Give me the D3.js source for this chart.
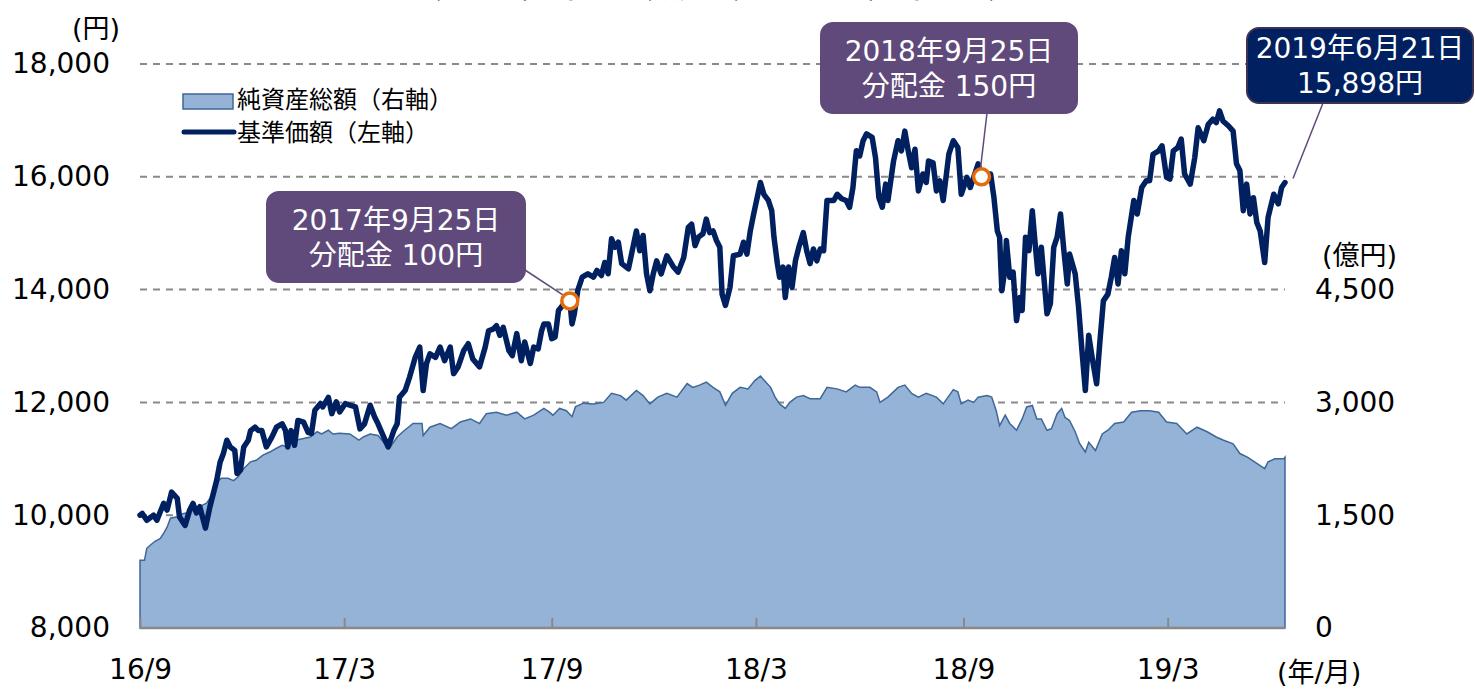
<!DOCTYPE html>
<html>
<head>
<meta charset="utf-8">
<script src="https://cdn.jsdelivr.net/npm/d3@7"></script>
<style>
  body { margin: 0; background: #fff; }
  text { font-family: "DejaVu Sans", "Noto Sans CJK JP", sans-serif; }
</style>
</head>
<body>
<div id="chart"></div>
<script>
// fund launch and last date
const launchDate = new Date(2016, 8, 9);
const lastDate = new Date(2019, 5, 21);

// 基準価額 (yen), days counted from launch
const navDays = [0,2,6,12,15,18,21,24,28,33,35,40,44,47,50,53,58,62,68,71,74,77,80,84,86,89,92,96,98,102,105,108,112,117,121,126,129,131,134,137,140,145,149,152,155,160,162,167,170,174,177,182,186,191,195,199,204,208,211,216,220,225,228,230,235,239,244,248,251,254,257,262,266,270,275,278,282,287,291,295,301,306,309,313,316,319,322,327,330,334,338,341,346,349,353,356,358,362,365,368,371,377,381,383,385,388,392,397,402,405,409,412,415,418,421,424,427,433,437,440,443,446,449,452,455,458,462,467,473,477,482,486,489,492,495,499,502,505,508,511,514,516,519,523,526,532,535,538,541,544,550,553,557,560,562,565,567,570,572,575,578,581,584,588,591,594,597,600,603,606,609,615,618,622,626,629,632,635,638,641,644,649,652,655,658,661,663,668,672,675,678,681,684,687,690,694,697,699,703,706,709,712,717,721,725,728,733,736,739,743,746,754,757,760,762,764,767,768,771,774,777,780,782,785,788,791,793,796,799,804,807,810,813,816,819,822,824,829,832,835,838,841,844,848,851,854,858,861,864,867,870,873,876,881,884,888,892,895,898,903,906,910,913,916,920,923,926,931,935,938,943,947,951,954,957,960,965,969,972,975,978,981,984,987,990,993,997,1000,1005,1009,1012,1015];
const navYen = [10000,10030,9910,10000,9910,10060,10210,10090,10410,10300,9970,9820,10090,10210,10040,10150,9770,10150,10620,10940,11100,11330,11210,11150,10740,10800,11210,11330,11500,11560,11500,11500,11210,11390,11560,11620,11500,11210,11500,11240,11680,11650,11470,11450,11860,11980,11920,12090,11800,12010,11830,11980,11950,11920,11530,11620,11950,11740,11620,11390,11210,11500,11620,12090,12210,12450,12800,12980,12210,12690,12860,12800,12980,12740,12980,12510,12630,12920,13040,12770,12630,12980,13270,13300,13360,13190,13330,12920,12830,13220,12740,13070,12690,12980,12950,13270,13390,13390,13130,13160,13630,13780,13800,13390,13570,13980,14220,14280,14220,14340,14250,14480,14280,14900,14750,14840,14460,14370,14750,15040,14690,14960,14280,13980,14280,14510,14280,14600,14400,14310,14570,15100,15160,14780,14930,14990,15250,15010,15040,14870,14750,13920,13720,14040,14600,14630,14840,14630,15040,15340,15900,15690,15580,15400,14930,14460,14220,14400,13860,14400,14040,14510,14750,15010,14690,14460,14720,14510,14720,14690,15580,15580,15690,15610,15580,15460,15810,16460,16370,16640,16760,16700,16340,15630,15460,15870,15580,16280,16640,16460,16810,16460,16160,16490,15750,16050,15900,16280,16250,15750,15930,15580,16400,16640,16520,15690,15990,15810,15990,16230,16000,16050,15630,15040,14930,13980,14400,14870,14220,14310,13450,13860,13630,14930,14690,15400,14930,14280,14750,13570,13750,14750,14930,15340,14690,14100,14630,14280,13690,12920,12210,13190,12800,12330,13100,13800,13920,14220,14570,14100,14690,14280,14930,15580,15340,15810,15930,15930,16400,16460,16550,15990,15960,16460,16520,16670,16050,15870,16340,16870,16640,16930,17020,16960,17170,16990,16900,16810,16230,16110,15400,15870,15340,15630,15190,15040,14480,15280,15690,15520,15810,15898];

// 純資産総額 (億円), days counted from launch
const aumDays = [0,4,6,9,13,18,21,24,27,33,38,44,50,55,59,65,68,72,78,83,87,92,98,103,109,115,121,126,130,134,139,145,151,157,161,167,171,177,186,194,198,204,211,217,222,228,233,242,250,251,257,266,276,284,293,301,307,316,325,334,341,349,358,363,366,372,378,383,386,393,402,411,418,426,431,440,446,452,459,467,476,485,490,496,502,508,514,519,525,532,539,545,550,559,563,567,572,576,582,588,594,603,609,618,626,634,638,647,653,656,663,672,678,684,690,697,706,712,721,725,728,734,739,743,751,755,759,762,767,771,777,782,786,791,795,799,804,808,813,817,820,824,829,833,838,841,847,853,858,864,872,879,887,895,903,910,919,928,937,946,954,960,969,975,982,988,997,1000,1006,1014,1015];
const aumOku = [900,900,1060,1100,1150,1190,1260,1340,1460,1480,1520,1540,1590,1630,1660,1790,1940,1990,1990,1960,2010,2120,2210,2230,2300,2340,2390,2430,2410,2470,2500,2520,2540,2610,2580,2630,2580,2590,2580,2500,2540,2580,2560,2450,2410,2540,2610,2720,2720,2560,2670,2720,2650,2740,2780,2720,2850,2870,2830,2870,2780,2830,2920,2870,2830,2920,2890,2810,2940,2990,2980,3000,3120,3090,3030,3160,3090,2980,3070,3120,3070,3250,3200,3230,3270,3200,3140,2960,3120,3200,3180,3290,3350,3200,3070,2980,2920,3000,3070,3090,3050,3050,3200,3180,3140,3230,3200,3200,3140,3000,3070,3200,3230,3120,3070,3120,3070,2980,3170,3140,2980,3030,3000,3070,3090,3070,2890,2690,2830,2720,2630,2780,2940,2960,2780,2780,2630,2650,2850,2920,2800,2760,2610,2450,2340,2470,2360,2580,2630,2720,2740,2870,2890,2890,2870,2740,2720,2580,2670,2610,2540,2500,2450,2320,2270,2210,2120,2210,2250,2250,2270];

// distributions
const distDays = [381, 746];
const distNav = [13800, 16000];
const distLabels = [["2017年9月25日", "分配金 100円"], ["2018年9月25日", "分配金 150円"]];
const lastLabel = ["2019年6月21日", "15,898円"];

// axes
const leftTicks = [8000, 10000, 12000, 14000, 16000, 18000];
const rightTicks = [0, 1500, 3000, 4500];
const xTickDates = [new Date(2016, 8, 9), new Date(2017, 2, 9), new Date(2017, 8, 9), new Date(2018, 2, 9), new Date(2018, 8, 9), new Date(2019, 2, 9)];
const xTickLabels = ["16/9", "17/3", "17/9", "18/3", "18/9", "19/3"];

const width = 1475, height = 689;
const margin = { top: 64, right: 190, bottom: 61, left: 140 };
const plotBottom = height - margin.bottom;

const svg = d3.select("#chart").append("svg")
  .attr("width", width)
  .attr("height", height);

const x = d3.scaleTime().domain([launchDate, lastDate]).range([margin.left, width - margin.right]);
const yLeft = d3.scaleLinear().domain([8000, 18000]).range([plotBottom, margin.top]);
const yRight = d3.scaleLinear().domain([0, 7500]).range([plotBottom, margin.top]);

const dayDate = d => d3.timeDay.offset(launchDate, d);
const nav = navDays.map((d, i) => ({ date: dayDate(d), value: navYen[i] }));
const aum = aumDays.map((d, i) => ({ date: dayDate(d), value: aumOku[i] }));

const grey = "#898989";

// title (cut off at the top of the picture)
svg.append("text")
  .attr("x", 715).attr("y", -2)
  .attr("text-anchor", "middle")
  .style("font-size", "27px")
  .text("（2016年9月9日（設定日）～2019年6月21日）");

// dashed grid lines
svg.append("g").selectAll("line")
  .data(leftTicks.slice(1))
  .enter().append("line")
  .attr("x1", x.range()[0]).attr("x2", x.range()[1])
  .attr("y1", d => yLeft(d)).attr("y2", d => yLeft(d))
  .attr("stroke", grey).attr("stroke-width", 2)
  .attr("stroke-dasharray", "7,6");

// net assets area
const area = d3.area()
  .x(d => x(d.date))
  .y0(yRight(0))
  .y1(d => yRight(d.value));

svg.append("path")
  .datum(aum)
  .attr("d", area)
  .attr("fill", "#95B3D7")
  .attr("stroke", "#3F6797")
  .attr("stroke-width", 1.5);

// x axis
const xAxis = svg.append("g")
  .attr("transform", `translate(0,${plotBottom})`)
  .call(d3.axisBottom(x).tickValues(xTickDates)
    .tickFormat((d, i) => xTickLabels[i])
    .tickSizeInner(-10).tickSizeOuter(0).tickPadding(31));
xAxis.select(".domain").remove();
xAxis.selectAll(".tick line").attr("stroke", grey).attr("stroke-width", 2);
xAxis.selectAll("text").attr("fill", "#000").style("font-size", "28px");

svg.append("line")
  .attr("x1", x.range()[0]).attr("x2", x.range()[1])
  .attr("y1", plotBottom).attr("y2", plotBottom)
  .attr("stroke", grey).attr("stroke-width", 2.5);

// left axis
const leftAxis = svg.append("g")
  .attr("transform", `translate(${margin.left},0)`)
  .call(d3.axisLeft(yLeft).tickValues(leftTicks).tickFormat(d3.format(",")).tickSize(0).tickPadding(30));
leftAxis.select(".domain").remove();
leftAxis.selectAll("text").attr("fill", "#000").style("font-size", "28px");

// right axis
const rightAxis = svg.append("g")
  .attr("transform", `translate(${width - margin.right},0)`)
  .call(d3.axisRight(yRight).tickValues(rightTicks).tickFormat(d3.format(",")).tickSize(0).tickPadding(30));
rightAxis.select(".domain").remove();
rightAxis.selectAll("text").attr("fill", "#000").style("font-size", "28px");

// unit labels
svg.append("text").attr("x", 72).attr("y", 38).style("font-size", "27px").text("(円)");
svg.append("text").attr("x", 1322).attr("y", 265).style("font-size", "27px").text("(億円)");
svg.append("text").attr("x", 1277).attr("y", 682).style("font-size", "27px").text("(年/月)");

// NAV line
const line = d3.line()
  .x(d => x(d.date))
  .y(d => yLeft(d.value));

svg.append("path")
  .datum(nav)
  .attr("d", line)
  .attr("fill", "none")
  .attr("stroke", "#002060")
  .attr("stroke-width", 5.5)
  .attr("stroke-linejoin", "round")
  .attr("stroke-linecap", "round");

// legend
const legend = svg.append("g");
legend.append("rect")
  .attr("x", 183).attr("y", 94).attr("width", 50).attr("height", 15)
  .attr("fill", "#95B3D7").attr("stroke", "#3F6797").attr("stroke-width", 1.5);
legend.append("text").attr("x", 237).attr("y", 108)
  .style("font-size", "24px").style("font-family", "'Noto Sans CJK JP'")
  .text("純資産総額（右軸）");
legend.append("line")
  .attr("x1", 184).attr("x2", 234).attr("y1", 132).attr("y2", 132)
  .attr("stroke", "#002060").attr("stroke-width", 5).attr("stroke-linecap", "round");
legend.append("text").attr("x", 237).attr("y", 141)
  .style("font-size", "24px").style("font-family", "'Noto Sans CJK JP'")
  .text("基準価額（左軸）");

// callouts
const purple = "#604A7B";
const boxes = [
  { x: 267, y: 192, w: 258, h: 90, lx: 525, ly: 270, fill: purple, stroke: purple, lines: distLabels[0] },
  { x: 821, y: 23, w: 256, h: 90, lx: 987, ly: 113, fill: purple, stroke: purple, lines: distLabels[1] },
  { x: 1247, y: 28, w: 226, h: 75, lx: 1323, ly: 103, fill: "#002060", stroke: "#3F3151", lines: lastLabel }
];
const targets = [
  [x(dayDate(distDays[0])) - 7, yLeft(distNav[0]) - 6],
  [x(dayDate(distDays[1])) - 1, yLeft(distNav[1]) - 9],
  [x(lastDate) + 8, yLeft(navYen[navYen.length - 1]) - 4]
];

boxes.forEach((b, i) => {
  svg.append("line")
    .attr("x1", b.lx).attr("y1", b.ly)
    .attr("x2", targets[i][0]).attr("y2", targets[i][1])
    .attr("stroke", purple).attr("stroke-width", 1.5);
});

svg.selectAll(".dist")
  .data(distDays)
  .enter().append("circle")
  .attr("cx", (d, i) => x(dayDate(d)))
  .attr("cy", (d, i) => yLeft(distNav[i]))
  .attr("r", 8)
  .attr("fill", "#fff")
  .attr("stroke", "#E46C0A")
  .attr("stroke-width", 3.5);

boxes.forEach(b => {
  svg.append("rect")
    .attr("x", b.x).attr("y", b.y).attr("width", b.w).attr("height", b.h)
    .attr("rx", 12).attr("ry", 12)
    .attr("fill", b.fill).attr("stroke", b.stroke).attr("stroke-width", 2);
  const cy = b.y + b.h / 2;
  b.lines.forEach((t, k) => {
    svg.append("text")
      .attr("x", b.x + b.w / 2)
      .attr("y", cy + (k - 0.5) * 35 + 10)
      .attr("text-anchor", "middle")
      .attr("fill", "#fff")
      .style("font-size", "28px")
      .text(t);
  });
});
</script>
</body>
</html>
